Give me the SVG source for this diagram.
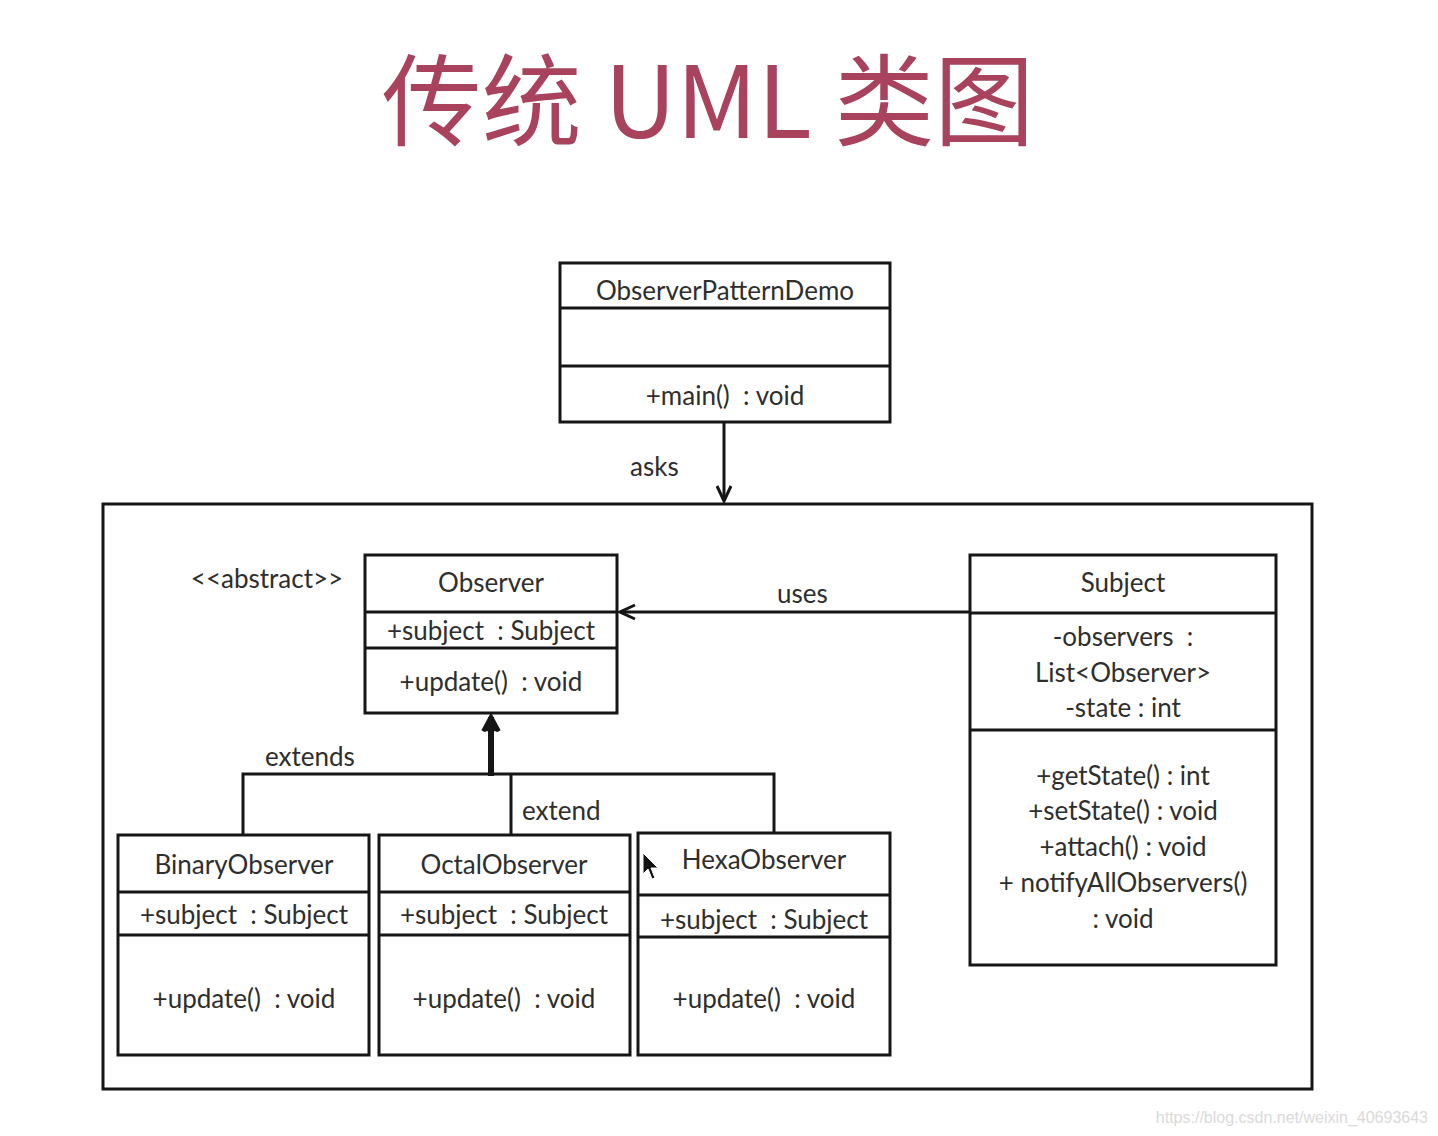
<svg xmlns="http://www.w3.org/2000/svg" width="1438" height="1136" viewBox="0 0 1438 1136">
<style>
.box{fill:#fff;stroke:#161616;stroke-width:3}
.div{stroke:#161616;stroke-width:3}
.t{font-family:Lato,"Liberation Sans",sans-serif;font-size:26px;fill:#2e2e2e;text-anchor:middle;white-space:pre}
.l{font-family:Lato,"Liberation Sans",sans-serif;font-size:26px;fill:#2e2e2e}
.c{fill:none;stroke:#161616;stroke-width:3}
.title{font-family:"Noto Sans CJK SC","Noto Sans",sans-serif;font-size:100px;fill:#a8425d;text-anchor:middle}
</style>
<defs>
<marker id="open" viewBox="0 0 20 20" refX="18" refY="10" markerWidth="20" markerHeight="20" markerUnits="userSpaceOnUse" orient="auto">
<path d="M3,3 L18,10 L3,17" fill="none" stroke="#161616" stroke-width="3"/>
</marker>
<marker id="gen" viewBox="0 0 20 20" refX="17" refY="10" markerWidth="22" markerHeight="22" markerUnits="userSpaceOnUse" orient="auto">
<path d="M4,3 L17,10 L4,17" fill="#161616" stroke="#161616" stroke-width="4" stroke-linejoin="miter"/>
</marker>
</defs>
<rect width="1438" height="1136" fill="#fff"/>
<text class="title" x="708" y="138">传统 UML 类图</text>

<g id="connectors">
<line class="c" x1="724" y1="422" x2="724" y2="501" marker-end="url(#open)"/>
<line class="c" x1="970" y1="612" x2="620" y2="612" marker-end="url(#open)"/>
<polyline class="c" points="243,835 243,774 774,774 774,833"/>
<line class="c" x1="511" y1="774" x2="511" y2="835"/>
<line x1="491" y1="776" x2="491" y2="717" stroke="#161616" stroke-width="6" marker-end="url(#gen)"/>
<text class="l" x="630" y="476">asks</text>
<text class="l" x="777" y="603">uses</text>
<text class="l" x="265" y="766">extends</text>
<text class="l" x="522" y="820">extend</text>
</g>

<g id="package">
<rect x="103" y="504" width="1209" height="585" fill="none" stroke="#161616" stroke-width="3"/>
</g>

<g id="ObserverPatternDemo">
<rect class="box" x="560" y="263" width="330" height="159"/>
<line class="div" x1="560" y1="308" x2="890" y2="308"/>
<line class="div" x1="560" y1="366" x2="890" y2="366"/>
<text class="t" x="725" y="300">ObserverPatternDemo</text>
<text class="t" x="725" y="405">+main()  : void</text>
</g>

<g id="Observer">
<rect class="box" x="365" y="555" width="252" height="158"/>
<line class="div" x1="365" y1="612" x2="617" y2="612"/>
<line class="div" x1="365" y1="648" x2="617" y2="648"/>
<text class="t" x="491" y="592">Observer</text>
<text class="t" x="491" y="640">+subject  : Subject</text>
<text class="t" x="491" y="691">+update()  : void</text>
<text class="t" x="267" y="588">&lt;&lt;abstract&gt;&gt;</text>
</g>

<g id="Subject">
<rect class="box" x="970" y="555" width="306" height="410"/>
<line class="div" x1="970" y1="613" x2="1276" y2="613"/>
<line class="div" x1="970" y1="730" x2="1276" y2="730"/>
<text class="t" x="1123" y="592">Subject</text>
<text class="t" x="1123" y="646">-observers  :</text>
<text class="t" x="1123" y="682">List&lt;Observer&gt;</text>
<text class="t" x="1123" y="717">-state : int</text>
<text class="t" x="1123" y="785">+getState() : int</text>
<text class="t" x="1123" y="820">+setState() : void</text>
<text class="t" x="1123" y="856">+attach() : void</text>
<text class="t" x="1123" y="892">+ notifyAllObservers()</text>
<text class="t" x="1123" y="928">: void</text>
</g>

<g id="BinaryObserver">
<rect class="box" x="118" y="835" width="251" height="220"/>
<line class="div" x1="118" y1="892" x2="369" y2="892"/>
<line class="div" x1="118" y1="935" x2="369" y2="935"/>
<text class="t" x="244" y="874">BinaryObserver</text>
<text class="t" x="244" y="924">+subject  : Subject</text>
<text class="t" x="244" y="1008">+update()  : void</text>
</g>

<g id="OctalObserver">
<rect class="box" x="379" y="835" width="251" height="220"/>
<line class="div" x1="379" y1="892" x2="630" y2="892"/>
<line class="div" x1="379" y1="935" x2="630" y2="935"/>
<text class="t" x="504" y="874">OctalObserver</text>
<text class="t" x="504" y="924">+subject  : Subject</text>
<text class="t" x="504" y="1008">+update()  : void</text>
</g>

<g id="HexaObserver">
<rect class="box" x="638" y="833" width="252" height="222"/>
<line class="div" x1="638" y1="895" x2="890" y2="895"/>
<line class="div" x1="638" y1="937" x2="890" y2="937"/>
<text class="t" x="764" y="869">HexaObserver</text>
<text class="t" x="764" y="929">+subject  : Subject</text>
<text class="t" x="764" y="1008">+update()  : void</text>
</g>

<path d="M643,853 L643,874 L648,869 L652,879 L655,878 L651,868 L658,868 Z" fill="#111" stroke="#fff" stroke-width="1"/>

<text x="1428" y="1123" font-family="'Liberation Sans',Arial,sans-serif" font-size="16" fill="#dadada" text-anchor="end">https://blog.csdn.net/weixin_40693643</text>
</svg>
